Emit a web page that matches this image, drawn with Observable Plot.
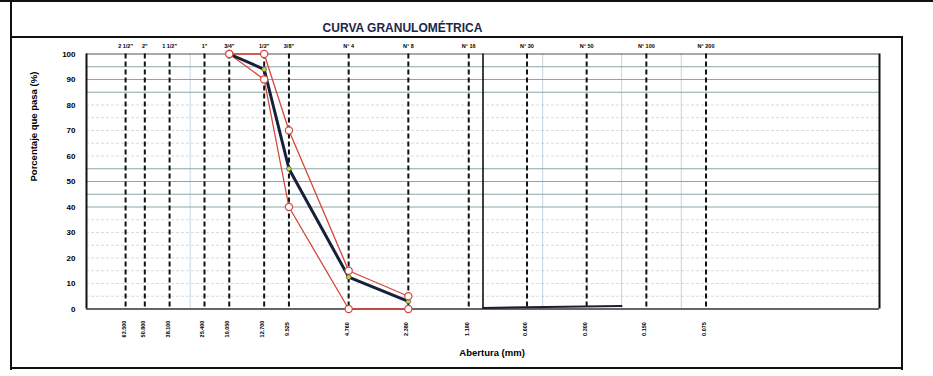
<!DOCTYPE html>
<html>
<head>
<meta charset="utf-8">
<script src="https://cdn.jsdelivr.net/npm/d3@7"></script>
<script src="https://cdn.jsdelivr.net/npm/@observablehq/plot@0.6"></script>
<style>
  html, body { margin: 0; padding: 0; background: #fff; }
  #wrap { position: relative; width: 933px; height: 376px; overflow: hidden; font-family: "Liberation Sans", Arial, sans-serif; }
  .ln { position: absolute; background: #111; }
  #title { position: absolute; left: 0; width: 805px; top: 21px; text-align: center; font-weight: bold; font-size: 12px; color: #1b2748; }
  #chart { position: absolute; left: 0; top: 0; }
</style>
</head>
<body>
<div id="wrap">
  <div class="ln" style="left:0;top:0;width:933px;height:2px"></div>
  <div class="ln" style="left:10px;top:0;width:2px;height:370px"></div>
  <div class="ln" style="left:10px;top:36px;width:893px;height:2px"></div>
  <div class="ln" style="left:901px;top:36px;width:2px;height:334px"></div>
  <div class="ln" style="left:10px;top:367px;width:893px;height:2px"></div>
  <div id="title">CURVA GRANULOMÉTRICA</div>
  <div id="chart"></div>
</div>
<script>
// Sieves (tamices): name and opening in mm
const sieveNames = ['2 1/2"', '2"', '1 1/2"', '1"', '3/4"', '1/2"', '3/8"', "N° 4", "N° 8", "N° 16", "N° 30", "N° 50", "N° 100", "N° 200"];
const sieveMm    = [63.5, 50.8, 38.1, 25.4, 19.05, 12.7, 9.525, 4.76, 2.38, 1.18, 0.6, 0.3, 0.15, 0.075];
const sieveMmLabels = ["63.500", "50.800", "38.100", "25.400", "19.050", "12.700", "9.525", "4.760", "2.380", "1.180", "0.600", "0.300", "0.150", "0.075"];

// Sample gradation (% passing)
const sampleMm   = [19.05, 12.7, 9.525, 4.76, 2.38];
const samplePass = [100, 94, 55, 12.5, 3];

// Specification limits
const limitMm    = [19.05, 12.7, 9.525, 4.76, 2.38];
const upperPass  = [100, 100, 70, 15, 5];
const lowerPass  = [100, 90, 40, 0, 0];

// Fines segment at bottom
const finesMm    = [1.0, 0.2];
const finesPass  = [0.4, 1.2];

// Grid
const yTicks     = [0, 10, 20, 30, 40, 50, 60, 70, 80, 90, 100];
const gridSolid  = [40, 45, 50, 55, 85, 90, 95];
const gridDotted = [5, 10, 15, 20, 25, 30, 35, 60, 65, 70, 75, 80];
const gridXFaint = [30, 0.5, 0.2, 0.1];
const dividerMm  = [1.0];

const sample = sampleMm.map((x, i) => ({x, y: samplePass[i]}));
const upper  = limitMm.map((x, i) => ({x, y: upperPass[i]}));
const lower  = limitMm.map((x, i) => ({x, y: lowerPass[i]}));
const fines  = finesMm.map((x, i) => ({x, y: finesPass[i]}));
const sieves = sieveMm.map((x, i) => ({x, name: sieveNames[i], lab: sieveMmLabels[i]}));

const red = "#d6463b";
const chart = Plot.plot({
  width: 933,
  height: 376,
  marginLeft: 86,
  marginRight: 54,
  marginTop: 53.5,
  marginBottom: 67.5,
  style: {background: "transparent", fontFamily: "'Liberation Sans', Arial, sans-serif"},
  x: {type: "log", domain: [100, 0.01], axis: null},
  y: {domain: [0, 100], axis: null},
  marks: [
    Plot.ruleX(gridXFaint, {stroke: "#b5c9d8", strokeWidth: 0.8}),
    Plot.ruleY(gridDotted, {stroke: "#a0a8a8", strokeWidth: 0.8, strokeDasharray: "3,2", strokeOpacity: 0.5}),
    Plot.ruleY(gridSolid, {stroke: "#8aa6a6", strokeWidth: 1}),
    Plot.ruleY([100], {stroke: "#555", strokeWidth: 1.1}),
    Plot.ruleX(sieves, {x: "x", stroke: "#111", strokeWidth: 2, strokeDasharray: "5,3"}),
    Plot.ruleX(dividerMm, {stroke: "#111", strokeWidth: 1.6}),
    Plot.ruleX([100, 0.01], {stroke: "#111", strokeWidth: 2}),
    Plot.ruleY([0], {stroke: "#333", strokeWidth: 1.6}),
    Plot.axisY({ticks: yTicks, tickSize: 0, tickPadding: 11, fontSize: 8, fontWeight: "bold", label: null}),
    Plot.text(sieves, {x: "x", text: "name", frameAnchor: "top", dy: -10, fontSize: 5.5, fontWeight: "bold"}),
    Plot.text(sieves, {x: "x", text: "lab", frameAnchor: "bottom", dy: 20, rotate: -90, fontSize: 5.5, fontWeight: "bold"}),
    Plot.line(fines, {x: "x", y: "y", stroke: "#1a1f2e", strokeWidth: 2}),
    Plot.line(upper, {x: "x", y: "y", stroke: red, strokeWidth: 1.3}),
    Plot.line(lower, {x: "x", y: "y", stroke: red, strokeWidth: 1.3}),
    Plot.line(sample, {x: "x", y: "y", stroke: "#17203a", strokeWidth: 3}),
    Plot.dot(sample, {x: "x", y: "y", r: 2.4, fill: "#c9d33b", stroke: "#17203a", strokeWidth: 0.5}),
    Plot.dot(upper, {x: "x", y: "y", r: 3.6, fill: "white", stroke: red, strokeWidth: 1.2}),
    Plot.dot(lower, {x: "x", y: "y", r: 3.6, fill: "white", stroke: red, strokeWidth: 1.2}),
    Plot.text(["Porcentaje que pasa (%)"], {frameAnchor: "left", dx: -53, rotate: -90, fontSize: 9.5, fontWeight: "bold"}),
    Plot.text(["Abertura (mm)"], {x: 0.9, frameAnchor: "bottom", dy: 47, fontSize: 9.5, fontWeight: "bold"})
  ]
});
document.getElementById("chart").appendChild(chart);
</script>
</body>
</html>
